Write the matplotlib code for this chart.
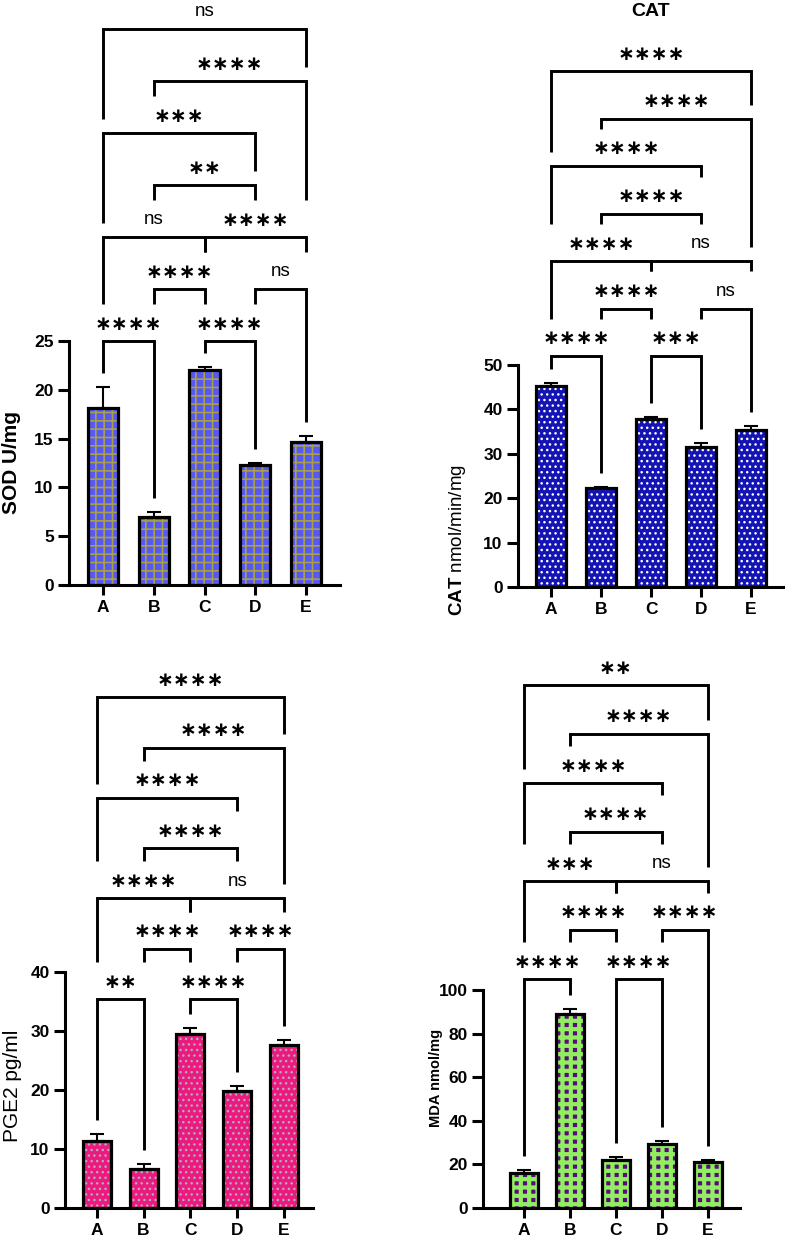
import matplotlib
matplotlib.use('Agg')
import matplotlib as mpl
import matplotlib.pyplot as plt
import numpy as np

mpl.rcParams['font.family'] = ['Liberation Sans', 'DejaVu Sans']
mpl.rcParams['mathtext.fontset'] = 'custom'
mpl.rcParams['mathtext.bf'] = 'Liberation Sans:bold'
mpl.rcParams['mathtext.rm'] = 'Liberation Sans'

# ---------------- data ----------------
groups = ['A', 'B', 'C', 'D', 'E']

sod_mean = [18.1, 7.0, 22.0, 12.25, 14.65]
sod_err = [2.2, 0.5, 0.3, 0.3, 0.6]

cat_mean = [45.2, 22.2, 37.8, 31.5, 35.4]
cat_err = [0.8, 0.3, 0.5, 0.9, 0.8]

pge2_mean = [11.3, 6.6, 29.5, 19.8, 27.6]
pge2_err = [1.3, 0.8, 1.0, 0.9, 0.8]

mda_mean = [16.2, 88.8, 22.0, 29.5, 21.3]
mda_err = [1.4, 2.3, 1.5, 1.3, 0.8]

comparisons = [('A', 'B'), ('C', 'D'), ('B', 'C'), ('D', 'E'), ('A', 'C'),
               ('C', 'E'), ('B', 'D'), ('A', 'D'), ('B', 'E'), ('A', 'E')]
levels = [0, 0, 1, 1, 2, 2, 3, 4, 5, 6]
sod_sig = ['****', '****', '****', 'ns', 'ns', '****', '**', '***', '****', 'ns']
cat_sig = ['****', '***', '****', 'ns', '****', 'ns', '****', '****', '****', '****']
pge2_sig = ['**', '****', '****', '****', '****', 'ns', '****', '****', '****', '****']
mda_sig = ['****', '****', '****', '****', '***', 'ns', '****', '****', '****', '**']

# ---------------- layout ----------------
W, H = 787, 1238
fig = plt.figure(figsize=(W / 100, H / 100), dpi=100)

STAR = '\u2217'
TEXT_W = {'****': 62, '***': 45, '**': 28, '*': 11, 'ns': 21}


def hatch_draw_wrapper(patch, lw):
    orig = patch.draw

    def draw(renderer):
        with mpl.rc_context({'hatch.linewidth': lw}):
            orig(renderer)
    patch.draw = draw


def panel(box, xlim, ymax, yticks, means, errs, face, hatch, hcol, hlw,
          sig, base_px, step_px, ylabel, ylab_pos, ylab_size, ylab_weight):
    l, r, b, t = box
    ax = fig.add_axes([l / W, 1 - b / H, (r - l) / W, (b - t) / H])
    ax.set_xlim(*xlim)
    ax.set_ylim(0, ymax)
    py = (b - t) / ymax                       # px per y-unit
    px = (r - l) / (xlim[1] - xlim[0])        # px per x-unit
    x = np.arange(len(groups))

    with mpl.rc_context({'hatch.linewidth': hlw}):
        bars = ax.bar(x, means, width=0.6, color=face, edgecolor=hcol,
                      linewidth=0, hatch=hatch, zorder=2)
    for p in bars:
        hatch_draw_wrapper(p, hlw)
    ax.bar(x, means, width=0.6, facecolor='none', edgecolor='black',
           linewidth=2.3, zorder=3, joinstyle='miter')
    ax.errorbar(x, means, yerr=[np.zeros(len(x)), errs], fmt='none',
                ecolor='black', elinewidth=1.5, capsize=5, capthick=1.5,
                zorder=4)

    for s in ['top', 'right']:
        ax.spines[s].set_visible(False)
    for s in ['left', 'bottom']:
        ax.spines[s].set_linewidth(2.2)
    ax.set_xticks(x)
    ax.set_xticklabels(groups)
    ax.set_yticks(yticks)
    ax.tick_params(axis='y', length=8, width=2.2, pad=3, labelsize=12.5)
    ax.tick_params(axis='x', length=7, width=2.2, pad=4, labelsize=12.5)
    for lab in ax.get_xticklabels() + ax.get_yticklabels():
        lab.set_fontweight('bold')

    lab = ax.set_ylabel(ylabel, fontsize=ylab_size, fontweight=ylab_weight)
    ax.yaxis.set_label_coords((ylab_pos[0] - l) / (r - l),
                              (b - ylab_pos[1]) / (b - t))
    lab.set_verticalalignment('center')

    # significance brackets (pixel geometry above the x axis)
    idx = {g: i for i, g in enumerate(groups)}
    line_px = [(b - base_px) + lv * step_px for lv in levels]
    gap = 14
    for k, ((g1, g2), lv, s) in enumerate(zip(comparisons, levels, sig)):
        i, j = idx[g1], idx[g2]
        yline = line_px[k]
        bottoms = []
        for g in (i, j):
            cands = [(means[g] + errs[g]) * py]
            for m, ((h1, h2), lv2, s2) in enumerate(zip(comparisons, levels, sig)):
                if lv2 >= lv:
                    continue
                a, c = idx[h1], idx[h2]
                if a <= g <= c:
                    cands.append(line_px[m])
                cx = (a + c) / 2
                if abs((g - cx) * px) <= TEXT_W[s2] / 2 + 25:
                    cands.append(line_px[m] + 23)
            bottoms.append(max(cands) + gap)
        ys = [bottoms[0] / py, yline / py, yline / py, bottoms[1] / py]
        ax.plot([i, i, j, j], ys, color='black', lw=2.1, clip_on=False,
                solid_joinstyle='miter', solid_capstyle='butt', zorder=5)
        ty = (yline + 17) / py
        if s == 'ns':
            ax.text((i + j) / 2, ty, 'ns', ha='center', va='center',
                    fontsize=13.5, clip_on=False)
        else:
            ax.text((i + j) / 2, ty, STAR * len(s), ha='center', va='center',
                    fontsize=14.5, family='DejaVu Sans', fontweight='bold',
                    clip_on=False)
    return ax


panel((69, 340, 585, 341), (-0.67, 4.67), 25, [0, 5, 10, 15, 20, 25],
      sod_mean, sod_err, '#5858f2', '++', '#a8a048', 1.2,
      sod_sig, 341, 52, 'SOD U/mg', (12, 463), 15, 'bold')

ax_cat = panel((518, 783, 587, 365), (-0.66, 4.64), 50, [0, 10, 20, 30, 40, 50],
               cat_mean, cat_err, '#1414b4', '...', 'white', 1.0,
               cat_sig, 356, 47.5, r'$\mathbf{CAT}$ nmol/min/mg', (458, 540), 13.5, 'normal')
ax_cat.set_title('CAT', fontsize=14, fontweight='bold', pad=0,
                 y=(587 - 12) / (587 - 365), va='center')

panel((65, 313, 1208, 972), (-0.68, 4.62), 40, [0, 10, 20, 30, 40],
      pge2_mean, pge2_err, '#ec1a7c', '...', '#b4a8c8', 1.0,
      pge2_sig, 999, 50.3, 'PGE2 pg/ml', (13, 1086), 15, 'normal')

panel((483, 740, 1208, 990), (-0.89, 4.7), 100, [0, 20, 40, 60, 80, 100],
      mda_mean, mda_err, '#5a0a7c', '++', '#90ee60', 3.0,
      mda_sig, 979, 49, 'MDA nmol/mg', (436, 1078), 10.5, 'bold')

fig.savefig('out.png', dpi=100)
